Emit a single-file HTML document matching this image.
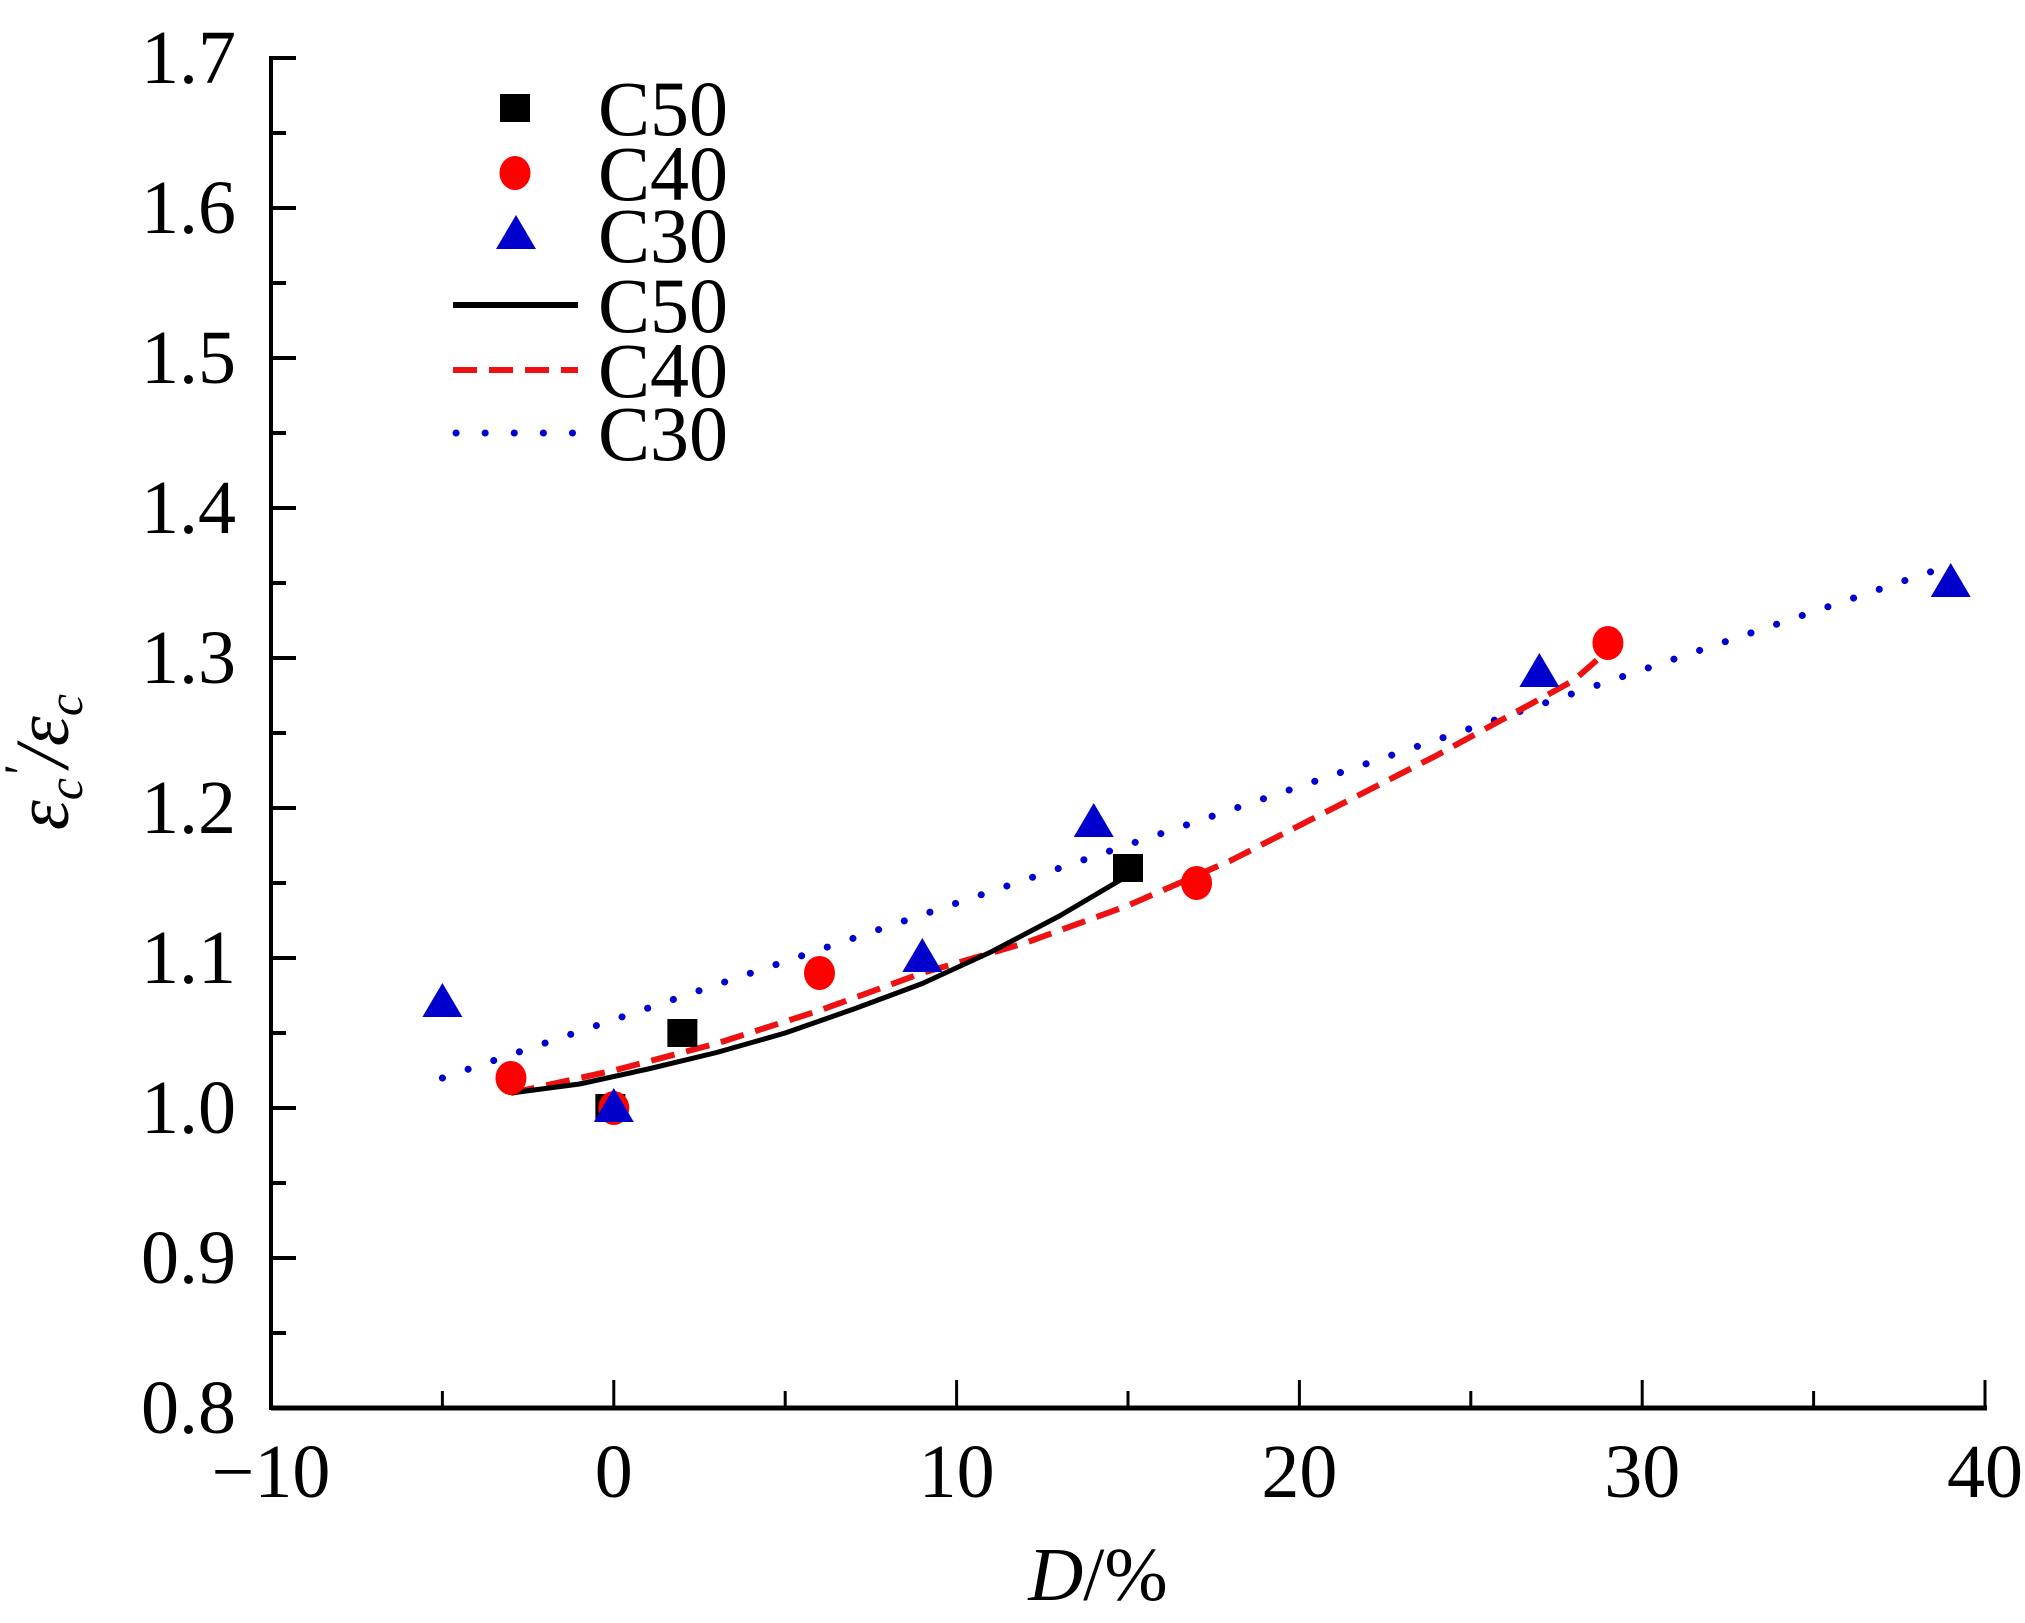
<!DOCTYPE html>
<html><head><meta charset="utf-8"><style>
html,body{margin:0;padding:0;background:#fff;}
svg, svg text{font-family:"Liberation Serif","Times New Roman",Times,serif;}
svg{display:block;}
</style></head><body>
<svg id="chart" width="2025" height="1623" viewBox="0 0 2025 1623" xmlns="http://www.w3.org/2000/svg" font-family="Liberation Serif, Times New Roman, serif">
<g id="axes"></g>
<g id="lines"></g>
<g id="marks"></g>
<g id="legend"></g>
<text x="1098" y="1600" font-size="76" text-anchor="middle" font-family="Liberation Serif, serif"><tspan font-style="italic">D</tspan>/%</text>
<text transform="translate(68,762) rotate(-90)" font-size="76" text-anchor="middle" font-style="italic" font-family="Liberation Serif, serif">ε<tspan font-size="50" dy="14">c</tspan><tspan font-size="50" dy="-44">'</tspan><tspan dy="30">/ε</tspan><tspan font-size="50" dy="14">c</tspan></text>
</svg>
<script>
const xTicks = [-10, 0, 10, 20, 30, 40];
const yTicks = [0.8, 0.9, 1.0, 1.1, 1.2, 1.3, 1.4, 1.5, 1.6, 1.7];
const yTickLabels = ["0.8","0.9","1.0","1.1","1.2","1.3","1.4","1.5","1.6","1.7"];
const c50X = [-0.1, 2, 15];
const c50Y = [1.0, 1.05, 1.16];
const c40X = [-3, 0, 6, 17, 29];
const c40Y = [1.02, 1.0, 1.09, 1.15, 1.31];
const c30X = [-5, 0, 9, 14, 27, 39];
const c30Y = [1.07, 1.0, 1.1, 1.19, 1.29, 1.35];
const fit50X = [-3, -1, 1, 3, 5, 7, 9, 11, 13, 15];
const fit50Y = [1.01, 1.016, 1.026, 1.037, 1.05, 1.066, 1.083, 1.104, 1.128, 1.155];
const fit40X = [-3, 0, 3, 6, 9, 12, 15, 18, 21, 24, 26, 28, 29];
const fit40Y = [1.01, 1.025, 1.043, 1.065, 1.09, 1.11, 1.135, 1.165, 1.2, 1.235, 1.26, 1.285, 1.305];
const fit30X = [-5, 39];
const fit30Y = [1.02, 1.362];

const NS = "http://www.w3.org/2000/svg";
const FONT = "Liberation Serif, Times New Roman, serif";
const X0 = 271, X1 = 1985, Y0 = 1408, Y1 = 58;
const sx = v => X0 + (v + 10) / 50 * (X1 - X0);
const sy = v => Y0 - (v - 0.8) / 0.9 * (Y0 - Y1);
function mk(tag, attrs, parent) {
  const e = document.createElementNS(NS, tag);
  for (const k in attrs) e.setAttribute(k, attrs[k]);
  parent.appendChild(e);
  return e;
}
const axes = document.getElementById('axes');
let e;
e = mk('line', {x1: X0, y1: Y0, x2: X1 + 2, y2: Y0, stroke: '#000', 'stroke-width': 5}, axes);


e = mk('line', {x1: X0, y1: Y0 + 2, x2: X0, y2: Y1 - 2, stroke: '#000', 'stroke-width': 4}, axes);


for (let v = -10; v <= 40; v += 5) {
  const major = v % 10 === 0;
  e = mk('line', {x1: sx(v), y1: Y0, x2: sx(v), y2: Y0 - (major ? 28 : 17), stroke: '#000', 'stroke-width': 3}, axes);
  
  
}
xTicks.forEach(v => {
  e = mk('text', {x: sx(v), y: 1497, 'font-size': 76, 'text-anchor': 'middle', 'font-family': FONT}, axes);
  e.textContent = v < 0 ? '\u2212' + Math.abs(v) : String(v);
  
  
});
for (let i = 0; i <= 18; i++) {
  const v = 0.8 + i * 0.05;
  const major = i % 2 === 0;
  e = mk('line', {x1: X0, y1: sy(v), x2: X0 + (major ? 25 : 15), y2: sy(v), stroke: '#000', 'stroke-width': 4}, axes);
  
  
}
yTicks.forEach((v, i) => {
  e = mk('text', {x: 236, y: sy(v) + 25, 'font-size': 76, 'text-anchor': 'end', 'font-family': FONT}, axes);
  e.textContent = yTickLabels[i];
  
  
});

const lines = document.getElementById('lines');
function pathD(xs, ys) { return xs.map((x, i) => (i ? 'L' : 'M') + sx(x).toFixed(1) + ',' + sy(ys[i]).toFixed(1)).join(' '); }
e = mk('path', {d: pathD(fit30X, fit30Y), fill: 'none', stroke: '#0000d0', 'stroke-width': 7, 'stroke-dasharray': '0.1 27', 'stroke-linecap': 'round'}, lines);


e = mk('path', {d: pathD(fit40X, fit40Y), fill: 'none', stroke: '#ee1111', 'stroke-width': 6, 'stroke-dasharray': '24 12', 'stroke-linejoin': 'round'}, lines);


e = mk('path', {d: pathD(fit50X, fit50Y), fill: 'none', stroke: '#000', 'stroke-width': 5, 'stroke-linejoin': 'round'}, lines);



const marks = document.getElementById('marks');
function square(cx, cy, p) { return mk('rect', {x: cx - 15, y: cy - 14, width: 30, height: 28, fill: '#000'}, p); }
function circle(cx, cy, p) { return mk('ellipse', {cx: cx, cy: cy, rx: 15.5, ry: 17, fill: '#ff0000'}, p); }
function tri(cx, cy, p) { return mk('polygon', {points: `${cx},${cy - 20} ${cx - 20},${cy + 14} ${cx + 20},${cy + 14}`, fill: '#0000cc'}, p); }
c50X.forEach((x, i) => {
  e = square(sx(x), sy(c50Y[i]), marks);
  
  
});
c40X.forEach((x, i) => {
  e = circle(sx(x), sy(c40Y[i]), marks);
  
  
});
c30X.forEach((x, i) => {
  e = tri(sx(x), sy(c30Y[i]), marks);
  
  
});

const legend = document.getElementById('legend');
const labels = ['C50', 'C40', 'C30', 'C50', 'C40', 'C30'];
const rowY = [108, 173, 235, 305, 370, 433];
e = square(515, rowY[0], legend);  
e = circle(515, rowY[1], legend);  
e = tri(516, rowY[2], legend);  
e = mk('line', {x1: 453, y1: rowY[3], x2: 578, y2: rowY[3], stroke: '#000', 'stroke-width': 6}, legend);


e = mk('line', {x1: 453, y1: rowY[4], x2: 578, y2: rowY[4], stroke: '#ee1111', 'stroke-width': 6, 'stroke-dasharray': '24 12'}, legend);


e = mk('line', {x1: 456, y1: rowY[5], x2: 578, y2: rowY[5], stroke: '#0000d0', 'stroke-width': 7, 'stroke-dasharray': '0.1 29', 'stroke-linecap': 'round'}, legend);


labels.forEach((t, i) => {
  e = mk('text', {x: 598, y: rowY[i] + 27, 'font-size': 78, 'font-family': FONT}, legend);
  e.textContent = t;
  
  
});
</script>
</body></html>
